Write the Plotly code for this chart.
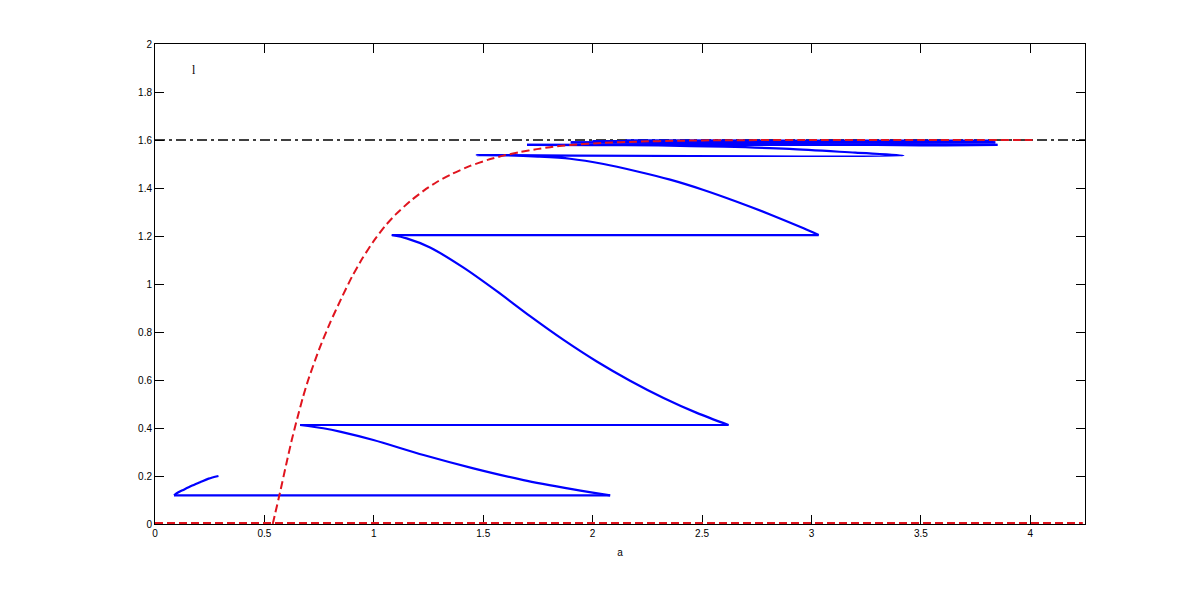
import plotly.graph_objects as go

# Blue iteration path
blue_x = [0.29, 0.245, 0.206, 0.165, 0.129, 0.105, 0.087,
          2.08,
          2.0, 1.912, 1.684, 1.455, 1.227, 0.998, 0.85, 0.769, 0.663,
          2.621,
          2.476, 2.324, 2.171, 2.019, 1.867, 1.714, 1.562, 1.41, 1.257, 1.15, 1.082,
          3.033,
          2.964, 2.811, 2.659, 2.507, 2.354, 2.2, 2.05, 1.897, 1.75, 1.6, 1.47,
          3.42,
          3.2, 2.9, 2.6, 2.3, 2.0, 1.70,
          3.85,
          3.5, 3.1, 2.7, 2.3, 1.9,
          3.84,
          3.4, 2.9, 2.4, 2.0,
          3.83,
          3.3, 2.7, 2.15,
          3.82]
blue_y = [0.2, 0.189, 0.174, 0.158, 0.142, 0.131, 0.119,
          0.119,
          0.131, 0.1444, 0.183, 0.232, 0.2875, 0.35, 0.384, 0.399, 0.4125,
          0.4125,
          0.463, 0.525, 0.597, 0.677, 0.767, 0.866, 0.97, 1.068, 1.152, 1.19, 1.204,
          1.204,
          1.232, 1.29, 1.343, 1.392, 1.435, 1.47, 1.50, 1.522, 1.531, 1.536, 1.537,
          1.535,
          1.547, 1.563, 1.572, 1.577, 1.579, 1.58,
          1.58,
          1.578, 1.582, 1.586, 1.588, 1.59,
          1.59,
          1.588, 1.591, 1.594, 1.595,
          1.595,
          1.594, 1.596, 1.597,
          1.597]

# Red dashed curve
red_x = [0.538, 0.571, 0.6, 0.625, 0.65, 0.675, 0.7, 0.75, 0.8, 0.85, 0.9, 0.95,
         1.0, 1.05, 1.1, 1.166, 1.23, 1.288, 1.36, 1.44, 1.52, 1.592, 1.67, 1.745,
         1.82, 1.897, 2.05, 2.2, 2.4, 2.6, 3.0, 3.5, 4.01]
red_y = [0.0, 0.13, 0.25, 0.35, 0.44, 0.525, 0.6, 0.728, 0.838, 0.937, 1.03, 1.11,
         1.18, 1.24, 1.29, 1.345, 1.39, 1.425, 1.46, 1.492, 1.517, 1.535, 1.55, 1.562,
         1.572, 1.579, 1.588, 1.593, 1.597, 1.599, 1.6, 1.6, 1.6]

zero_x = [0.0, 4.24]
zero_y = [0.0, 0.0]

limit_x = [0.0, 4.25]
limit_y = [1.6, 1.6]

x_ticks = [0, 0.5, 1, 1.5, 2, 2.5, 3, 3.5, 4]
x_ticklabels = ["0", "0.5", "1", "1.5", "2", "2.5", "3", "3.5", "4"]
y_ticks = [0, 0.2, 0.4, 0.6, 0.8, 1.0, 1.2, 1.4, 1.6, 1.8, 2.0]
y_ticklabels = ["0", "0.2", "0.4", "0.6", "0.8", "1", "1.2", "1.4", "1.6", "1.8", "2"]

BLUE = "#0000ff"
RED = "#e0141e"

fig = go.Figure()
fig.add_trace(go.Scatter(x=limit_x, y=limit_y, mode="lines",
                         line=dict(color="black", width=1.5, dash="10px,4px,3px,4px")))

# split the blue path into horizontal runs (straight) and curved runs (smooth)
n = len(blue_x)
start = 0
i = 0
pieces = []
while i < n - 1:
    if blue_y[i] == blue_y[i + 1]:
        if i > start:
            pieces.append(("curve", start, i))
        pieces.append(("flat", i, i + 1))
        start = i + 1
    i += 1
if start < n - 1:
    pieces.append(("curve", start, n - 1))

for kind, a, b in pieces:
    fig.add_trace(go.Scatter(
        x=blue_x[a:b + 1], y=blue_y[a:b + 1], mode="lines",
        line_shape="spline" if kind == "curve" else "linear",
        line=dict(color=BLUE, width=2.2, smoothing=0.8 if kind == "curve" else None)))

fig.add_trace(go.Scatter(x=zero_x, y=zero_y, mode="lines",
                         line=dict(color=RED, width=4, dash="8px,4px")))
fig.add_trace(go.Scatter(x=red_x, y=red_y, mode="lines", line_shape="spline",
                         line=dict(color=RED, width=2, dash="8px,4px", smoothing=0.6)))

axis_common = dict(showgrid=False, zeroline=False, showline=True, linecolor="black",
                   linewidth=1, mirror="ticks", ticks="inside", ticklen=9,
                   tickcolor="black", layer="below traces",
                   tickfont=dict(family="Liberation Sans, Arial", size=10, color="black"))

fig.update_xaxes(range=[0, 4.25], tickvals=x_ticks, ticktext=x_ticklabels,
                 title=dict(text="a", font=dict(family="Liberation Sans, Arial", size=10, color="black"), standoff=10),
                 **axis_common)
fig.update_yaxes(range=[0, 2], tickvals=y_ticks, ticktext=y_ticklabels, **axis_common)

fig.add_annotation(x=0.18, y=1.89, text="l", showarrow=False,
                   font=dict(family="Liberation Serif, Times New Roman", size=12, color="black"))

fig.update_layout(width=1198, height=589, showlegend=False,
                  plot_bgcolor="white", paper_bgcolor="white",
                  margin=dict(l=147, r=121, t=36, b=73))

fig.write_html("out.html")
